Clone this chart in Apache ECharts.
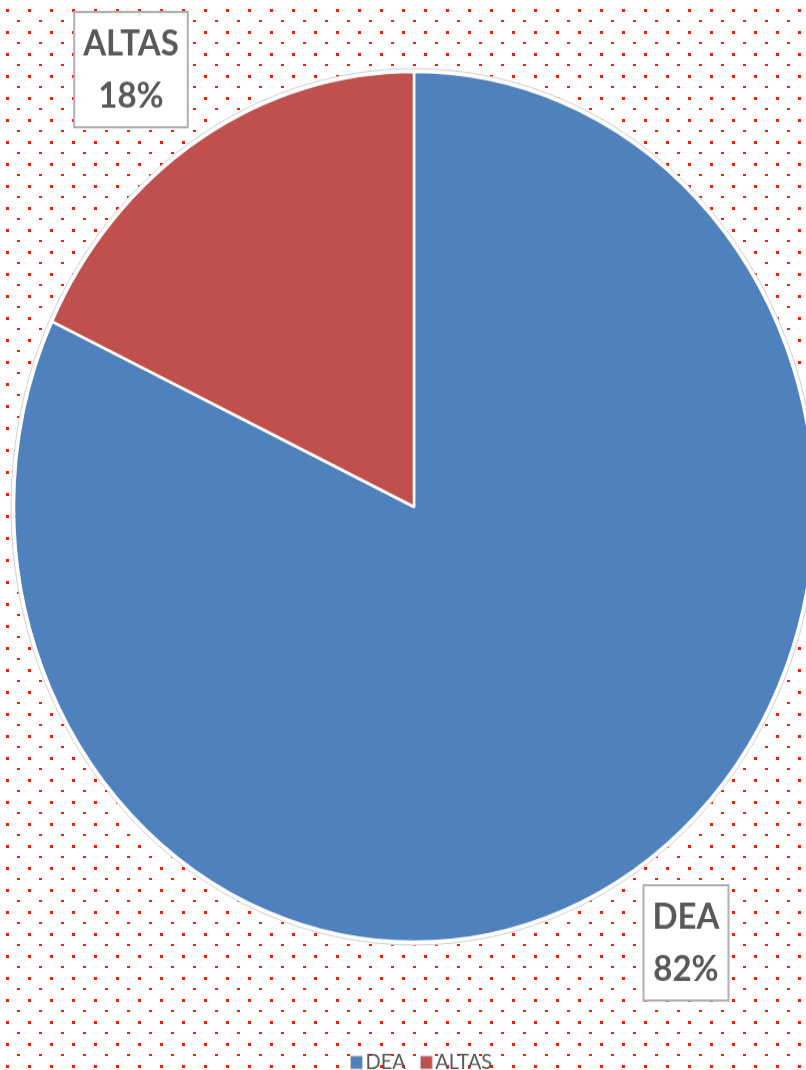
<!DOCTYPE html>
<html>
<head>
<meta charset="utf-8">
<script src="https://cdn.jsdelivr.net/npm/echarts@6/dist/echarts.min.js"></script>
<style>
  html, body { margin: 0; padding: 0; }
  body {
    width: 806px; height: 1070px; overflow: hidden; position: relative;
    background-color: #fff;
    background-image: url("data:image/svg+xml;utf8,<svg xmlns='http://www.w3.org/2000/svg' width='22' height='22'><rect x='6' y='9' width='3' height='3' fill='%23ff1a00'/><rect x='17' y='20' width='3' height='3' fill='%23ff1a00'/></svg>");
    background-size: 22px 22px;
  }
  #chart {
    position: absolute; left: 0; top: 0; width: 806px; height: 984px;
    transform: scaleY(1.0875); transform-origin: 0 0;
  }
</style>
</head>
<body>
<div id="chart"></div>
<script>
const categories = ['DEA', 'ALTAS'];
const values = [82, 18];
const colors = ['#4f81bd', '#c0504d'];

const labelCenters = { 0: [686, 867], 1: [131, 64] };

const chart = echarts.init(document.getElementById('chart'), null, { renderer: 'canvas' });
const font = 'Lato, "Open Sans", sans-serif';

chart.setOption({
  animation: false,
  legend: {
    data: categories,
    top: 962,
    left: 345,
    icon: 'rect',
    itemWidth: 12,
    itemHeight: 12,
    itemGap: 14,
    itemStyle: { borderColor: '#c8c8c8', borderWidth: 1 },
    textStyle: { color: '#595959', fontSize: 20, fontFamily: font, padding: [0, 0, 0, -2] }
  },
  series: [
    {
      type: 'pie',
      silent: true,
      center: [414, 466],
      radius: 403,
      label: { show: false },
      labelLine: { show: false },
      itemStyle: { color: '#ffffff', borderColor: '#cfcfcf', borderWidth: 1 },
      data: [{ value: 1, name: '' }],
      z: 1
    },
    {
      type: 'pie',
      center: [414, 466],
      radius: 400,
      startAngle: 90,
      clockwise: true,
      percentPrecision: 0,
      z: 2,
      emphasis: { disabled: true },
      itemStyle: { borderColor: '#ffffff', borderWidth: 2.5 },
      labelLine: { show: false },
      label: {
        show: true,
        position: 'outside',
        formatter: '{b}\n{d}%',
        color: '#595959',
        fontFamily: font,
        fontWeight: 'bold',
        fontSize: 33,
        lineHeight: 48,
        align: 'center',
        backgroundColor: '#ffffff',
        borderColor: '#b0b0b0',
        borderWidth: 2,
        padding: [4, 8, 4, 8]
      },
      labelLayout: function (params) {
        const c = labelCenters[params.dataIndex];
        return { x: c[0], y: c[1], align: 'center', verticalAlign: 'middle' };
      },
      data: categories.map((n, i) => ({ name: n, value: values[i], itemStyle: { color: colors[i] } }))
    }
  ]
});
</script>
</body>
</html>
